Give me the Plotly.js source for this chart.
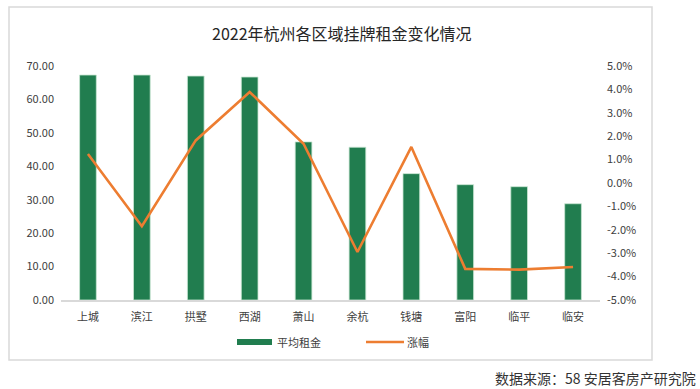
<!DOCTYPE html>
<html><head><meta charset="utf-8">
<script src="https://cdn.plot.ly/plotly-3.0.1.min.js"></script>
<style>html,body{margin:0;padding:0;background:#fff;}#chart{width:700px;height:389px;}</style>
</head><body><div id="chart"></div>
<script>
const districts = ['上城','滨江','拱墅','西湖','萧山','余杭','钱塘','富阳','临平','临安'];
const avgRent = [67.3, 67.3, 67.0, 66.7, 47.3, 45.7, 37.8, 34.5, 33.9, 28.8];
const changePct = [1.24, -1.85, 1.82, 3.89, 1.68, -2.95, 1.54, -3.67, -3.70, -3.59];
const leftTickVals = [0,10,20,30,40,50,60,70];
const leftTickText = ['0.00','10.00','20.00','30.00','40.00','50.00','60.00','70.00'];
const rightTickVals = [-5,-4,-3,-2,-1,0,1,2,3,4,5];
const rightTickText = ['-5.0%','-4.0%','-3.0%','-2.0%','-1.0%','0.0%','1.0%','2.0%','3.0%','4.0%','5.0%'];
const seriesNames = ['平均租金','涨幅'];
const titleText = '2022年杭州各区域挂牌租金变化情况';
const sourceText = '数据来源：58 安居客房产研究院';

const FONT = '"Noto Sans CJK SC", "Noto Sans", sans-serif';
const GREEN = '#217d4f';
const ORANGE = '#ed7d31';
const TXT = '#404040';

const data = [
  {type:'bar', x:districts, y:avgRent, name:seriesNames[0], width:0.31,
   marker:{color:GREEN, line:{color:'rgba(200,230,210,0.8)', width:1}}, yaxis:'y', showlegend:false},
  {type:'scatter', mode:'lines', x:districts, y:changePct, name:seriesNames[1],
   line:{color:ORANGE, width:2.6}, yaxis:'y2', showlegend:false}
];

const W=700,H=389;
// plot area: x 61..600, y 66..300 (pixels)
const fx = v=>(v-61)/539, fy = v=>(300-v)/234;

const layout = {
  width:W, height:H,
  margin:{l:61, r:100, t:66, b:89, pad:0},
  paper_bgcolor:'#fff', plot_bgcolor:'#fff',
  font:{family:FONT, size:11, color:TXT},
  xaxis:{type:'category', showgrid:false, zeroline:false, showline:true, linecolor:'#d9d9d9', linewidth:1.5,
         ticks:'', tickfont:{size:11, color:TXT}, ticklabelstandoff:6, range:[-0.5,9.5]},
  yaxis:{range:[0,70], tickvals:leftTickVals, ticktext:leftTickText, showgrid:false, zeroline:false,
         showline:false, ticks:'', tickfont:{size:11, color:TXT}, ticklabelstandoff:6},
  yaxis2:{range:[-5,5], overlaying:'y', side:'right', tickvals:rightTickVals, ticktext:rightTickText,
          showgrid:false, zeroline:false, showline:false, ticks:'', tickfont:{size:11, color:TXT}, ticklabelstandoff:6},
  shapes:[
    {type:'rect', xref:'paper', yref:'paper',
     x0:fx(9), x1:fx(652), y0:fy(360), y1:fy(7),
     line:{color:'#d9d9d9', width:1.5}, fillcolor:'rgba(0,0,0,0)', layer:'below'},
    {type:'rect', xref:'paper', yref:'paper',
     x0:fx(237), x1:fx(272), y0:fy(345), y1:fy(339),
     line:{width:0}, fillcolor:GREEN},
    {type:'line', xref:'paper', yref:'paper',
     x0:fx(366), x1:fx(404), y0:fy(342), y1:fy(342),
     line:{color:ORANGE, width:2.6}}
  ],
  annotations:[
    {text:titleText, xref:'paper', yref:'paper', x:fx(342), y:fy(33), xanchor:'center', yanchor:'middle',
     showarrow:false, font:{size:16, color:'#262626', family:FONT}},
    {text:seriesNames[0], xref:'paper', yref:'paper', x:fx(275), y:fy(342), xanchor:'left', yanchor:'middle',
     showarrow:false, font:{size:11, color:TXT, family:FONT}},
    {text:seriesNames[1], xref:'paper', yref:'paper', x:fx(405), y:fy(342), xanchor:'left', yanchor:'middle',
     showarrow:false, font:{size:11, color:TXT, family:FONT}},
    {text:sourceText, xref:'paper', yref:'paper', x:fx(698), y:fy(378), xanchor:'right', yanchor:'middle',
     showarrow:false, font:{size:14, color:'#333333', family:FONT}}
  ],
  showlegend:false
};
Plotly.newPlot('chart', data, layout, {displayModeBar:false, staticPlot:true});
</script></body></html>
